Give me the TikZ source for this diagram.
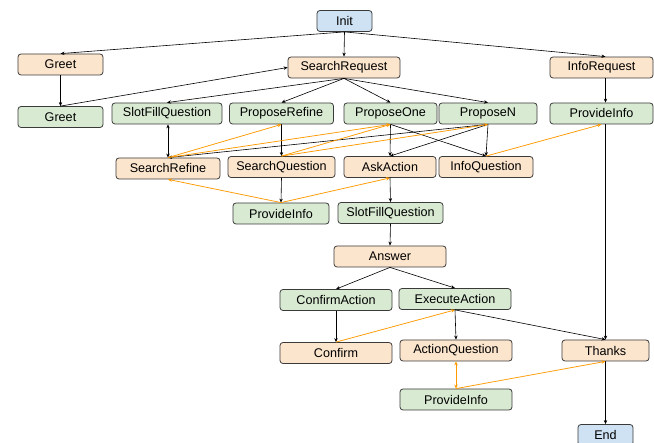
\documentclass[tikz,border=0pt]{standalone}
\usepackage{fontspec}
\setmainfont{Liberation Sans}
\usetikzlibrary{arrows.meta}

\definecolor{sysfill}{HTML}{D9EAD3}
\definecolor{userfill}{HTML}{FCE5CD}
\definecolor{endfill}{HTML}{CFE2F3}
\definecolor{boxline}{HTML}{3A3A3A}
\definecolor{backedge}{HTML}{FF9900}

\tikzset{
  box/.style={draw=boxline, line width=0.8pt, rounded corners=3pt,
    minimum height=21pt, inner sep=0pt, font=\fontsize{12.6}{14}\selectfont,
    text=black},
  sysbox/.style={box, fill=sysfill},
  userbox/.style={box, fill=userfill},
  endbox/.style={box, fill=endfill},
  fwd/.style={draw=black, line width=0.6pt, -{Stealth[length=4pt,width=3.4pt]}},
  back/.style={draw=backedge, line width=0.75pt, -{Stealth[length=4pt,width=3.4pt]}},
  backboth/.style={draw=backedge, line width=0.75pt, {Stealth[length=4pt,width=3.4pt]}-{Stealth[length=4pt,width=3.4pt]}},
  fwdboth/.style={draw=black, line width=0.6pt, {Stealth[length=4pt,width=3.4pt]}-{Stealth[length=4pt,width=3.4pt]}},
}

\begin{document}
\begin{tikzpicture}[x=1pt,y=1pt]
\useasboundingbox (0,0) rectangle (654,-443);

% top
\node[endbox, minimum width=55] (init) at (344.5,-21) {Init};

% first user turn
\node[userbox, minimum width=85] (greetU) at (60.5,-64.5) {Greet};
\node[userbox, minimum width=112] (sreq) at (344,-67.5) {SearchRequest};
\node[userbox, minimum width=103] (ireq) at (601.5,-67.5) {InfoRequest};

% system replies
\node[sysbox, minimum width=85] (greetS) at (60.5,-117) {Greet};
\node[sysbox, minimum width=110] (sfq) at (167,-113.5) {SlotFillQuestion};
\node[sysbox, minimum width=104] (prefine) at (281.5,-113.5) {ProposeRefine};
\node[sysbox, minimum width=93] (pone) at (390.5,-113.5) {ProposeOne};
\node[sysbox, minimum width=98] (pn) at (488,-113.5) {ProposeN};
\node[sysbox, minimum width=103] (pinfoR) at (601.5,-113.5) {ProvideInfo};

% second user turn
\node[userbox, minimum width=104] (srefine) at (168,-168.5) {SearchRefine};
\node[userbox, minimum width=107] (squest) at (281.5,-167) {SearchQuestion};
\node[userbox, minimum width=92] (ask) at (390,-167) {AskAction};
\node[userbox, minimum width=94] (iquest) at (486,-167) {InfoQuestion};

\node[sysbox, minimum width=96] (pinfoM) at (281,-213.5) {ProvideInfo};
\node[sysbox, minimum width=105] (sfq2) at (390.5,-213) {SlotFillQuestion};

\node[userbox, minimum width=112] (answer) at (390,-256.5) {Answer};

\node[sysbox, minimum width=112] (confact) at (336,-300) {ConfirmAction};
\node[sysbox, minimum width=112] (exeact) at (455,-299) {ExecuteAction};

\node[userbox, minimum width=112] (confirm) at (336,-353) {Confirm};
\node[userbox, minimum width=112] (actq) at (456,-350.5) {ActionQuestion};
\node[userbox, minimum width=87] (thanks) at (605.5,-350.5) {Thanks};

\node[sysbox, minimum width=112] (pinfoB) at (456,-399.5) {ProvideInfo};
\node[endbox, minimum width=55] (end) at (605.5,-435) {End};

% forward transitions
\draw[fwd] (init.south) -- (greetU.north);
\draw[fwd] (init.south) -- (sreq.north);
\draw[fwd] (init.south) -- (ireq.north -| thanks.north);
\draw[fwd] (greetU) -- (greetS);
\draw[fwd] (greetS.north) -- (sreq.west);
\draw[fwd] (sreq.south) -- (sfq.north);
\draw[fwd] (sreq.south) -- (prefine.north);
\draw[fwd] (sreq.south) -- (pone.north);
\draw[fwd] (sreq.south) -- (pn.north);
\draw[fwd] (ireq.south -| thanks.north) -- (pinfoR.north -| thanks.north);

\draw[fwdboth] (sfq.south -| srefine.north) -- (srefine.north);
\draw[fwd] (prefine.south) -- (squest.north);
\draw[fwd] (pone.south) -- (ask.north);
\draw[fwd] (pone.south) -- (iquest.north);
\draw[fwd] (pn.south) -- (ask.north);
\draw[fwd] (pn.south) -- (iquest.north);
\draw[fwd] (pn.south) -- (srefine.north);

\draw[fwd] (squest.south) -- (pinfoM.north);
\draw[fwd] (ask.south) -- (sfq2.north);
\draw[fwd] (sfq2.south) -- (answer.north);
\draw[fwd] (answer.south) -- (confact.north);
\draw[fwd] (answer.south) -- (exeact.north);
\draw[fwd] (confact.south) -- (confirm.north);
\draw[fwd] (exeact.south) -- (actq.north);
\draw[fwd] (exeact.south) -- (thanks.north);
\draw[fwd] (pinfoR.south -| thanks.north) -- (thanks.north);
\draw[fwd] (thanks.south) -- (end.north);

% backward transitions
\draw[back] (srefine.north) -- (prefine.south);
\draw[back] (srefine.north) -- (pone.south);
\draw[back] (squest.north) -- (pone.south);
\draw[back] (squest.north) -- (pn.south);
\draw[back] (iquest.north) -- (pinfoR.south);
\draw[back] (pinfoM.north) -- (srefine.south);
\draw[back] (pinfoM.north) -- (ask.south);
\draw[back] (confirm.north) -- (exeact.south);
\draw[backboth] (pinfoB.north) -- (actq.south);
\draw[back] (pinfoB.north) -- (thanks.south);
\end{tikzpicture}
\end{document}
